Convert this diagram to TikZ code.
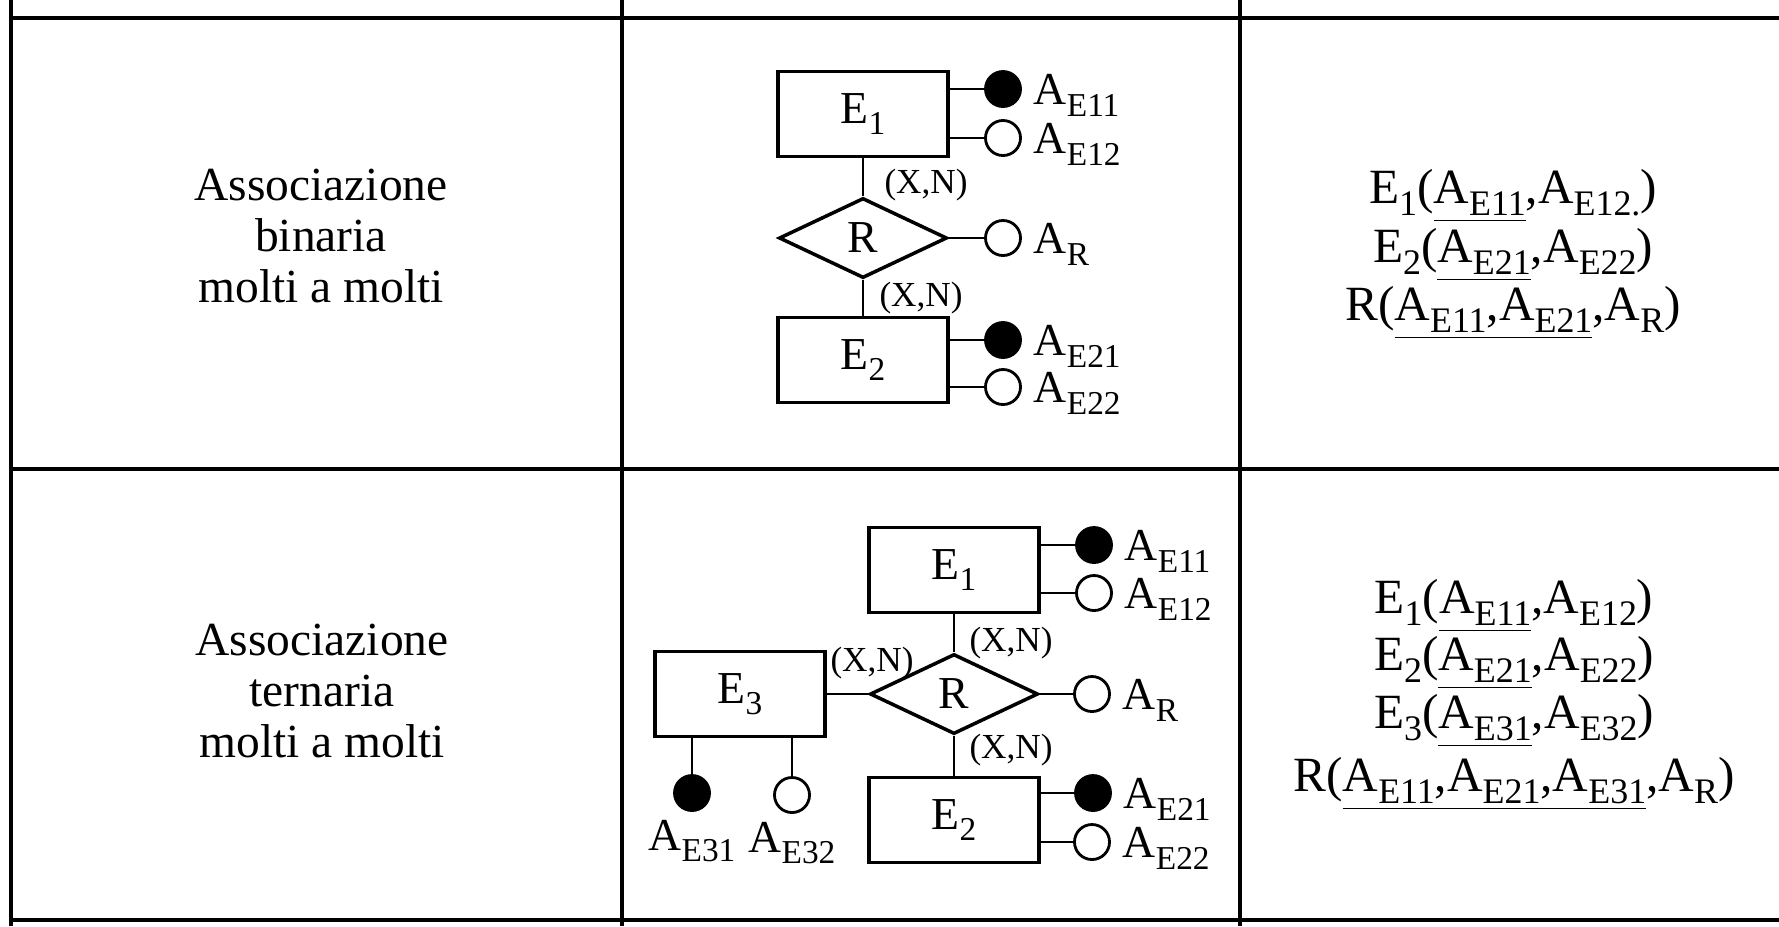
\documentclass[tikz,border=0pt]{standalone}
\usepackage{fontspec}
\setmainfont{Liberation Serif}
\usetikzlibrary{shapes.geometric}

\newcommand{\sbs}[1]{\raisebox{-0.25em}{\scalebox{0.73}{#1}}}
\newcommand{\attr}[1]{A\sbs{E#1}}

\tikzset{
  frame/.style={line width=1pt},
  entity/.style={draw, line width=1pt, minimum width=1.7cm, minimum height=0.85cm, inner sep=0pt, font=\fontsize{13}{15}\selectfont},
  relation/.style={draw, diamond, line width=1pt, minimum width=1.68cm, minimum height=0.8cm, inner sep=0pt, font=\fontsize{13}{15}\selectfont},
  keyattr/.style={circle, draw, fill=black, line width=0.8pt, minimum size=0.35cm, inner sep=0pt},
  optattr/.style={circle, draw, fill=white, line width=0.8pt, minimum size=0.35cm, inner sep=0pt},
  attrlabel/.style={inner sep=0pt, anchor=base west, font=\fontsize{13}{15}\selectfont},
  card/.style={inner sep=0pt, font=\fontsize{10}{12}\selectfont},
  rowlabel/.style={align=center, font=\fontsize{13.5}{14.4}\selectfont},
  schema/.style={inner sep=0pt, anchor=base, font=\fontsize{14}{16}\selectfont}
}

\begin{document}
\begin{tikzpicture}[x=0.01cm, y=-0.01cm, line width=0.8pt]
    \useasboundingbox (0,0) rectangle (1779,926);

    % Draw table
    \foreach \x in {11,622,1240} {
        \draw[frame] (\x,0) -- (\x,926);
    }
    \foreach \y in {18,469,920} {
        \draw[frame] (11,\y) -- (1779,\y);
    }

    % Row labels
    \node[rowlabel] (bin) at (321,236) {Associazione\\binaria\\molti a molti};
    \node[rowlabel] (ter) at (322,691) {Associazione\\ternaria\\molti a molti};

    % Binary association
    \node[entity] (e1) at (863,114) {E\sbs{1}};
    \node[relation] (r) at (863,238) {R};
    \node[entity] (e2) at (863,360) {E\sbs{2}};
    \draw (e1) -- (r) -- (e2);
    \node[card] (c1) at (926,185) {(X,N)};
    \node[card] (c2) at (921,298) {(X,N)};

    \node[keyattr] (a11) at (1003,89) {};
    \node[optattr] (a12) at (1003,138) {};
    \node[optattr] (ar) at (1003,238) {};
    \node[keyattr] (a21) at (1003,340) {};
    \node[optattr] (a22) at (1003,387) {};
    \draw (e1.east |- a11) -- (a11);
    \draw (e1.east |- a12) -- (a12);
    \draw (r) -- (ar);
    \draw (e2.east |- a21) -- (a21);
    \draw (e2.east |- a22) -- (a22);
    \node[attrlabel] (l11) at ([xshift=3pt, yshift=-4.5pt]a11.east) {\attr{11}};
    \node[attrlabel] (l12) at ([xshift=3pt, yshift=-4.5pt]a12.east) {\attr{12}};
    \node[attrlabel] (lr) at ([xshift=3pt, yshift=-4.5pt]ar.east) {A\sbs{R}};
    \node[attrlabel] (l21) at ([xshift=3pt, yshift=-4.5pt]a21.east) {\attr{21}};
    \node[attrlabel] (l22) at ([xshift=3pt, yshift=-4.5pt]a22.east) {\attr{22}};

    % Ternary association
    \node[entity] (t1) at (954,570) {E\sbs{1}};
    \node[relation] (tr) at (954,694) {R};
    \node[entity] (t2) at (954,820) {E\sbs{2}};
    \node[entity] (t3) at (740,694) {E\sbs{3}};
    \draw (t1) -- (tr) -- (t2);
    \draw (t3) -- (tr);
    \node[card] (d3) at (872,663) {(X,N)};
    \node[card] (d1) at (1011,643) {(X,N)};
    \node[card] (d2) at (1011,750) {(X,N)};

    \node[keyattr] (b11) at (1094,545) {};
    \node[optattr] (b12) at (1094,593) {};
    \node[optattr] (br) at (1092,694) {};
    \node[keyattr] (b21) at (1093,793) {};
    \node[optattr] (b22) at (1092,842) {};
    \node[keyattr] (b31) at (692,793) {};
    \node[optattr] (b32) at (792,795) {};
    \draw (t1.east |- b11) -- (b11);
    \draw (t1.east |- b12) -- (b12);
    \draw (tr) -- (br);
    \draw (t2.east |- b21) -- (b21);
    \draw (t2.east |- b22) -- (b22);
    \draw (t3.south -| b31) -- (b31);
    \draw (t3.south -| b32) -- (b32);
    \node[attrlabel] (m11) at ([xshift=3pt, yshift=-4.5pt]b11.east) {\attr{11}};
    \node[attrlabel] (m12) at ([xshift=3pt, yshift=-4.5pt]b12.east) {\attr{12}};
    \node[attrlabel] (mr) at ([xshift=3pt, yshift=-4.5pt]br.east) {A\sbs{R}};
    \node[attrlabel] (m21) at ([xshift=3pt, yshift=-4.5pt]b21.east) {\attr{21}};
    \node[attrlabel] (m22) at ([xshift=3pt, yshift=-4.5pt]b22.east) {\attr{22}};
    \node[attrlabel, anchor=north] (m31) at ([yshift=-2pt]b31.south) {\attr{31}};
    \node[attrlabel, anchor=north] (m32) at ([yshift=-2pt]b32.south) {\attr{32}};

    % Relational schemas
    \node[schema] (s1) at (1513,203) {E\sbs{1}(\underline{\attr{11}},\attr{12.})};
    \node[schema] (s2) at (1513,262) {E\sbs{2}(\underline{\attr{21}},\attr{22})};
    \node[schema] (s3) at (1513,320) {R(\underline{\attr{11},\attr{21}},A\sbs{R})};

    \node[schema] (u1) at (1514,613) {E\sbs{1}(\underline{\attr{11}},\attr{12})};
    \node[schema] (u2) at (1514,670) {E\sbs{2}(\underline{\attr{21}},\attr{22})};
    \node[schema] (u3) at (1514,728) {E\sbs{3}(\underline{\attr{31}},\attr{32})};
    \node[schema] (u4) at (1514,791) {R(\underline{\attr{11},\attr{21},\attr{31}},A\sbs{R})};
\end{tikzpicture}
\end{document}
